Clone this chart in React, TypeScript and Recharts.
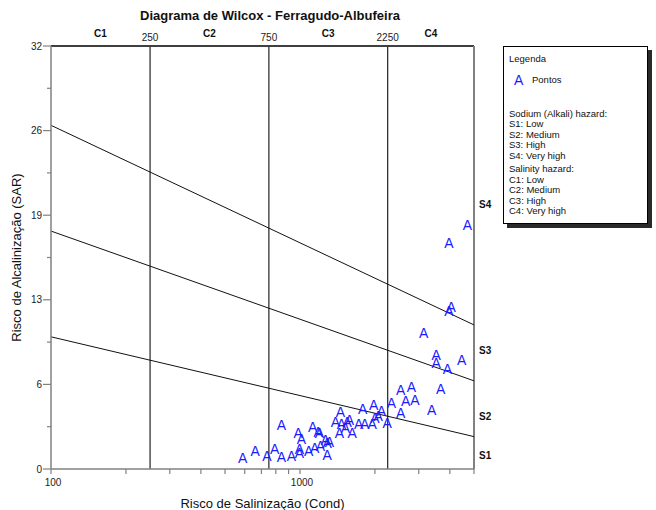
import React from "react";
import {
  ReferenceDot,
  ReferenceLine,
  Scatter,
  ScatterChart,
  XAxis,
  YAxis,
} from "recharts";

// Conductivity (µS/cm) and SAR, one entry per sample.
const COND = [
  588, 661, 737, 791, 842, 842, 924, 983, 1013, 994, 994, 1084, 1125, 1182,
  1197, 1146, 1208, 1265, 1285, 1313, 1285, 1388, 1454, 1467, 1547, 1580,
  1440, 1620, 1722, 1787, 1821, 1950, 1979, 1998, 2062, 2126, 2240, 2332,
  2535, 2535, 2806, 2655, 2893, 3378, 3671, 3136, 3522, 3522, 3906, 4460,
  3965, 4046, 3965, 4700, 1523,
];
const SAR = [
  0.83, 1.33, 0.95, 1.53, 3.3, 0.88, 1.0, 2.72, 2.27, 1.51, 1.21, 1.33, 3.17,
  2.77, 2.72, 1.59, 1.71, 2.21, 1.97, 2.01, 1.08, 3.52, 4.28, 3.42, 3.52,
  3.73, 2.72, 2.72, 3.42, 4.54, 3.42, 3.42, 4.86, 3.85, 3.98, 4.35, 3.48,
  4.99, 4.23, 5.99, 6.24, 5.11, 5.24, 4.48, 6.03, 10.26, 8.6, 8.01, 7.54,
  8.26, 11.97, 12.27, 17.08, 18.47, 3.12,
];

// Sodium hazard boundaries: SAR at cond = 100 and cond = 5000.
const S_LINES_LEFT = [10, 18, 26];
const S_LINES_RIGHT = [2.45, 6.67, 10.9];
const S_LABELS = ["S1", "S2", "S3", "S4"];
const S_LABEL_SAR = [1, 4, 9, 20];

// Salinity hazard boundaries and class labels.
const C_BOUNDS = [250, 750, 2250];
const C_LABELS = ["C1", "C2", "C3", "C4"];
const C_LABEL_AT = [158, 433, 1299, 3354];

const X_TICKS = [
  100, 200, 300, 400, 500, 600, 700, 800, 900, 1000, 2000, 3000, 4000, 5000,
];
const X_LABELLED = [100, 1000];
const Y_TICKS = [0, 3.2, 6.4, 9.6, 12.8, 16, 19.2, 22.4, 25.6, 28.8, 32];

const points = COND.map((c, i) => ({ cond: c, sar: SAR[i] }));

const FONT = '"Liberation Sans", Arial, sans-serif';
const AXIS_GRAY = "#808080";

function XTick(props: any) {
  const { x, y, payload } = props;
  const v = payload.value;
  return (
    <g>
      <line x1={x} x2={x} y1={y} y2={y + 5} stroke={AXIS_GRAY} strokeWidth={1.2} />
      {X_LABELLED.includes(v) && (
        <text x={x + 2} y={y + 17} textAnchor="middle" fontSize={10} fill="#222" fontFamily={FONT}>
          {v}
        </text>
      )}
    </g>
  );
}

function YTick(props: any) {
  const { x, y, payload, index } = props;
  const major = index % 2 === 0;
  return (
    <g>
      <line x1={x - (major ? 8 : 4)} x2={x} y1={y} y2={y} stroke={AXIS_GRAY} strokeWidth={1.2} />
      {major && (
        <text x={x - 9} y={y + 3.5} textAnchor="end" fontSize={10} fill="#222" fontFamily={FONT}>
          {Math.round(payload.value)}
        </text>
      )}
    </g>
  );
}

function Glyph(props: any) {
  const { cx, cy } = props;
  if (cx == null || cy == null) return null;
  return (
    <text x={cx} y={cy + 5} textAnchor="middle" fontSize={14} fill="#1a1aff" fontFamily={FONT}>
      A
    </text>
  );
}

const legendLine: React.CSSProperties = { height: 10.5, lineHeight: "10.5px" };

export default function App() {
  return (
    <div
      style={{
        position: "absolute",
        left: 0,
        top: 0,
        width: 656,
        height: 510,
        background: "#fff",
        fontFamily: FONT,
      }}
    >
      <div
        style={{
          position: "absolute",
          left: 0,
          width: 540,
          top: 8,
          textAlign: "center",
          fontWeight: "bold",
          fontSize: 13,
          color: "#111",
        }}
      >
        Diagrama de Wilcox - Ferragudo-Albufeira
      </div>

      <ScatterChart
        width={656}
        height={510}
        margin={{ top: 46, right: 182, bottom: 0, left: 0 }}
        style={{ position: "absolute", left: 0, top: 0 }}
      >
        <XAxis
          type="number"
          dataKey="cond"
          scale="log"
          domain={[100, 5000]}
          allowDataOverflow
          ticks={X_TICKS}
          interval={0}
          height={41}
          tickSize={0}
          tickMargin={0}
          tick={<XTick />}
          axisLine={{ stroke: AXIS_GRAY, strokeWidth: 1.5 }}
          label={{
            value: "Risco de Salinização (Cond)",
            position: "insideBottom",
            offset: 2,
            fontSize: 13,
            fill: "#111",
            fontFamily: FONT,
          }}
        />
        <YAxis
          type="number"
          dataKey="sar"
          domain={[0, 32]}
          allowDataOverflow
          ticks={Y_TICKS}
          interval={0}
          width={51}
          tickSize={0}
          tickMargin={0}
          tick={<YTick />}
          axisLine={{ stroke: AXIS_GRAY, strokeWidth: 1.5 }}
          label={{
            value: "Risco de Alcalinização (SAR)",
            angle: -90,
            position: "insideLeft",
            offset: 16,
            fontSize: 13,
            fill: "#111",
            fontFamily: FONT,
            style: { textAnchor: "middle" },
          }}
        />

        <ReferenceLine y={32} stroke="#000" strokeWidth={1.5} />
        <ReferenceLine x={5000} stroke={AXIS_GRAY} strokeWidth={2} />

        {C_BOUNDS.map((b) => (
          <ReferenceLine
            key={b}
            x={b}
            stroke="#333"
            strokeWidth={1.3}
            label={{ value: String(b), position: "top", offset: 5, fontSize: 10, fill: "#222", fontFamily: FONT }}
          />
        ))}

        {S_LINES_LEFT.map((l, i) => (
          <ReferenceLine
            key={"s" + i}
            segment={[
              { x: 100, y: l },
              { x: 5000, y: S_LINES_RIGHT[i] },
            ]}
            stroke="#111"
            strokeWidth={1}
          />
        ))}

        {C_LABELS.map((c, i) => (
          <ReferenceDot
            key={c}
            x={C_LABEL_AT[i]}
            y={32}
            r={0}
            stroke="none"
            fill="none"
            label={{ value: c, position: "top", offset: 9, fontSize: 10, fontWeight: "bold", fill: "#111", fontFamily: FONT }}
          />
        ))}

        {S_LABELS.map((s, i) => (
          <ReferenceDot
            key={s}
            x={5000}
            y={S_LABEL_SAR[i]}
            r={0}
            stroke="none"
            fill="none"
            label={{ value: s, position: "right", offset: 5, fontSize: 10, fontWeight: "bold", fill: "#111", fontFamily: FONT }}
          />
        ))}

        <Scatter data={points} shape={<Glyph />} isAnimationActive={false} />
      </ScatterChart>

      <div
        style={{
          position: "absolute",
          left: 503,
          top: 46,
          width: 138,
          height: 170,
          border: "1px solid #000",
          boxShadow: "4px 4px 0 #2a2a2a",
          background: "#fff",
          padding: "6px 0 0 5px",
          fontSize: 9.5,
          color: "#111",
        }}
      >
        <div style={{ ...legendLine, marginTop: 1 }}>Legenda</div>
        <div style={{ height: 18, display: "flex", alignItems: "center", marginTop: 6 }}>
          <span style={{ color: "#1a1aff", fontSize: 14, marginLeft: 5, width: 18 }}>A</span>
          <span>Pontos</span>
        </div>
        <div style={{ height: 20 }} />
        <div style={legendLine}>Sodium (Alkali) hazard:</div>
        <div style={legendLine}>S1: Low</div>
        <div style={legendLine}>S2: Medium</div>
        <div style={legendLine}>S3: High</div>
        <div style={legendLine}>S4: Very high</div>
        <div style={{ height: 3 }} />
        <div style={legendLine}>Salinity hazard:</div>
        <div style={legendLine}>C1: Low</div>
        <div style={legendLine}>C2: Medium</div>
        <div style={legendLine}>C3: High</div>
        <div style={legendLine}>C4: Very high</div>
      </div>
    </div>
  );
}
